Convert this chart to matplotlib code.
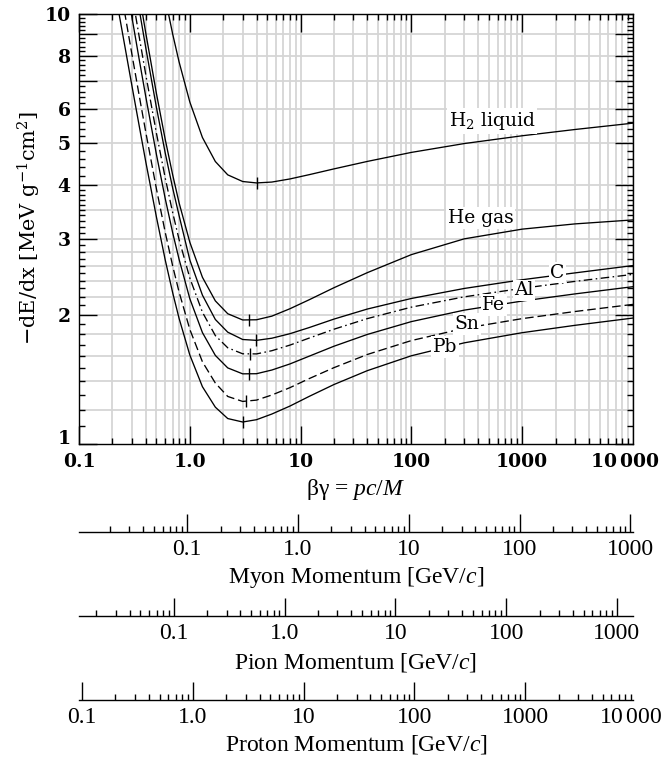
import matplotlib
matplotlib.use("Agg")
import matplotlib.pyplot as plt
from matplotlib.ticker import FixedLocator, FixedFormatter, NullFormatter, NullLocator

nan = float("nan")

# ---------------- data ----------------
beta_gamma = [0.2, 0.25, 0.3, 0.35, 0.4, 0.5, 0.6, 0.7, 0.8, 1.0, 1.3, 1.7, 2.2, 3.0, 4.0,
              5.5, 8.0, 12.0, 20.0, 40.0, 100.0, 300.0, 1000.0, 3000.0, 10000.0]

h2_liquid = [nan, nan, nan, nan, nan, 13.96, 10.89, 8.99, 7.74, 6.245, 5.162, 4.539, 4.226, 4.078,
             4.047, 4.066, 4.134, 4.231, 4.363, 4.541, 4.766, 4.997, 5.21, 5.388, 5.574]
he_gas = [nan, nan, 14.14, 11.10, 9.05, 6.53, 5.11, 4.23, 3.64, 2.947, 2.442, 2.152, 2.009, 1.943,
          1.945, 1.983, 2.063, 2.166, 2.309, 2.503, 2.757, 3.00, 3.16, 3.25, 3.32]
carbon = [nan, nan, 12.99, 10.23, 8.36, 6.06, 4.752, 3.939, 3.40, 2.68, 2.219, 1.948, 1.82, 1.75,
          1.742, 1.762, 1.805, 1.866, 1.952, 2.06, 2.18, 2.30, 2.41, 2.50, 2.60]
aluminium = [nan, 14.82, 11.17, 8.83, 7.24, 5.28, 4.156, 3.455, 2.99, 2.433, 2.025, 1.787, 1.674,
             1.621, 1.620, 1.648, 1.698, 1.764, 1.849, 1.957, 2.081, 2.199, 2.302, 2.389, 2.48]
iron = [nan, 13.0, 9.85, 7.82, 6.435, 4.712, 3.722, 3.102, 2.690, 2.178, 1.816, 1.607, 1.503, 1.456,
        1.457, 1.486, 1.535, 1.601, 1.688, 1.798, 1.926, 2.048, 2.150, 2.234, 2.322]
tin = [14.76, 10.58, 8.07, 6.445, 5.322, 3.919, 3.107, 2.597, 2.257, 1.848, 1.553, 1.386, 1.290,
       1.256, 1.265, 1.300, 1.352, 1.42, 1.505, 1.615, 1.74, 1.858, 1.957, 2.033, 2.112]
lead = [12.23, 8.87, 6.82, 5.48, 4.54, 3.37, 2.68, 2.25, 1.96, 1.611, 1.359, 1.218, 1.146, 1.125,
        1.139, 1.174, 1.225, 1.291, 1.375, 1.481, 1.604, 1.719, 1.815, 1.888, 1.963]

curve_names = ["H$_2$ liquid", "He gas", "C", "Al", "Fe", "Sn", "Pb"]
min_bg = [4.0, 3.44, 3.93, 3.49, 3.44, 3.19, 3.0]
min_val = [4.04, 1.94, 1.746, 1.615, 1.451, 1.256, 1.123]
label_bg = [533, 421, 2085, 1038, 556, 318, 201]
label_val = [5.64, 3.355, 2.505, 2.275, 2.105, 1.901, 1.68]

x_major = [0.1, 1, 10, 100, 1000, 10000]
x_major_labels = ["0.1", "1.0", "10", "100", "1000", "10$\\,$000"]
y_major = [1, 2, 3, 4, 5, 6, 7, 8, 9, 10]
y_major_labels = ["1", "2", "3", "4", "5", "6", "", "8", "", "10"]
y_grid = [1.2, 1.4, 1.6, 1.8, 2.0, 2.2, 2.4, 2.6, 2.8, 3.0, 3.5, 4, 5, 6, 7, 8, 9]

muon_mass = 0.10566
pion_mass = 0.13957
proton_mass = 0.93827
momentum_ticks = [0.1, 1, 10, 100, 1000]
momentum_labels = ["0.1", "1.0", "10", "100", "1000"]
axis_titles = ["Myon Momentum [GeV/$c$]", "Pion Momentum [GeV/$c$]", "Proton Momentum [GeV/$c$]"]

# ---------------- style ----------------
plt.rcParams["font.family"] = ["DejaVu Serif"]
plt.rcParams["mathtext.fontset"] = "custom"
plt.rcParams["mathtext.rm"] = "Liberation Serif"
plt.rcParams["mathtext.it"] = "Liberation Serif:italic"
plt.rcParams["mathtext.bf"] = "Liberation Serif:bold"

W, H = 662, 763
fig = plt.figure(figsize=(W / 100, H / 100), dpi=100)


def rect(l, t, r, b):
    return [l / W, 1 - b / H, (r - l) / W, (b - t) / H]


L, R, T, B = 79, 633, 14, 444
ax = fig.add_axes(rect(L, T, R, B))
ax.set_xscale("log")
ax.set_yscale("log")
ax.set_xlim(0.1, 10000)
ax.set_ylim(1, 10)

grid_col = "#d5d5d5"
x_grid = [k * 10.0 ** e for e in range(-1, 4) for k in range(1, 10)][1:] + [10000]
for xv in x_grid:
    ax.axvline(xv, color=grid_col, lw=1.3, zorder=0)
for yv in y_grid:
    ax.axhline(yv, color=grid_col, lw=1.3, zorder=0)

series = [h2_liquid, he_gas, carbon, aluminium, iron, tin, lead]
styles = ["-", "-", "-", (0, (6.5, 2.6, 1.2, 2.6)), "-", (0, (6.5, 3.0)), "-"]
for vals, ls in zip(series, styles):
    ax.plot(beta_gamma, vals, color="black", lw=0.95, linestyle=ls, zorder=3)

ax.plot(min_bg, min_val, linestyle="none", marker="|", markersize=9, mew=1.0,
        color="black", zorder=4)

for name, xb, yv in zip(curve_names, label_bg, label_val):
    ax.text(xb, yv, name, fontsize=13.5, ha="center", va="center", zorder=5,
            math_fontfamily="dejavuserif",
            bbox=dict(facecolor="white", edgecolor="none", pad=1.2))

# ticks
ax.xaxis.set_major_locator(FixedLocator(x_major[:-1]))
ax.xaxis.set_major_formatter(FixedFormatter(x_major_labels[:-1]))
ax.xaxis.set_minor_locator(FixedLocator([v for v in x_grid if v not in x_major]))
ax.xaxis.set_minor_formatter(NullFormatter())
ax.yaxis.set_major_locator(FixedLocator(y_major))
ax.yaxis.set_major_formatter(FixedFormatter([""] + y_major_labels[1:]))
y_minor = [round(1 + 0.1 * i, 2) for i in range(1, 30)] + [round(4 + 0.2 * i, 2) for i in range(1, 30)]
y_minor = [v for v in y_minor if v not in y_major]
ax.yaxis.set_minor_locator(FixedLocator(y_minor))
ax.yaxis.set_minor_formatter(NullFormatter())
ax.tick_params(which="both", direction="in", top=True, right=True, width=1.0)
ax.tick_params(which="major", length=13)
ax.tick_params(which="minor", length=4.3)
ax.tick_params(axis="x", which="major", pad=6.5)
ax.tick_params(axis="y", which="major", pad=6)
for lab in ax.get_xticklabels() + ax.get_yticklabels():
    lab.set_fontweight("bold")
    lab.set_fontsize(13.5)
# the lowest y label sits slightly above its tick, as in the reference
ax.annotate(y_major_labels[0], xy=(0, y_major[0]), xycoords=("axes fraction", "data"),
            xytext=(-6, 3.5), textcoords="offset points", ha="right", va="center",
            fontsize=13.5, fontweight="bold")
ax.annotate(x_major_labels[-1], xy=(x_major[-1], 0), xycoords=("data", "axes fraction"),
            xytext=(-6, -6.5), textcoords="offset points", ha="center", va="top",
            fontsize=13.5, fontweight="bold", math_fontfamily="dejavuserif")
for sp in ax.spines.values():
    sp.set_linewidth(1.0)

fig.text(29 / W, 1 - 228 / H, "\u2212dE/dx [MeV g$^{-1}$cm$^{2}$]", rotation=90,
         ha="center", va="center", fontsize=15, math_fontfamily="dejavuserif")
fig.text(356 / W, 1 - 490 / H, "\u03b2\u03b3 = $pc/M$", ha="center", va="center",
         fontsize=17, family="Liberation Serif")

# momentum axes
masses = [muon_mass, pion_mass, proton_mass]
line_y = [532, 616, 700]
title_y = [578, 662, 745]
for m, ly, ty, title in zip(masses, line_y, title_y, axis_titles):
    a = fig.add_axes(rect(L, ly - 20, R, ly))
    a.set_facecolor("none")
    a.set_xscale("log")
    a.set_xlim(0.1 * m, 10000 * m)
    a.set_ylim(0, 1)
    for s in ["top", "left", "right"]:
        a.spines[s].set_visible(False)
    a.spines["bottom"].set_linewidth(1.0)
    a.yaxis.set_major_locator(NullLocator())
    a.yaxis.set_minor_locator(NullLocator())
    a.xaxis.set_major_locator(FixedLocator(momentum_ticks))
    a.xaxis.set_major_formatter(FixedFormatter(momentum_labels))
    mins = [k * 10.0 ** e for e in range(-2, 4) for k in range(2, 10)]
    a.xaxis.set_minor_locator(FixedLocator(mins))
    a.xaxis.set_minor_formatter(NullFormatter())
    a.tick_params(which="both", direction="in", width=1.0)
    a.tick_params(which="major", length=13, pad=5, labelsize=17)
    a.tick_params(which="minor", length=4.3)
    for lab in a.get_xticklabels():
        lab.set_family("Liberation Serif")
    if m == proton_mass:
        a.annotate("10$\\,$000", xy=(10000, 0), xycoords=("data", "axes fraction"),
                   xytext=(-4, -5), textcoords="offset points", ha="center", va="top",
                   fontsize=17, family="Liberation Serif")
    fig.text(356 / W, 1 - ty / H, title, ha="center", va="center", fontsize=17,
             family="Liberation Serif")

fig.savefig("out.png", dpi=100)
